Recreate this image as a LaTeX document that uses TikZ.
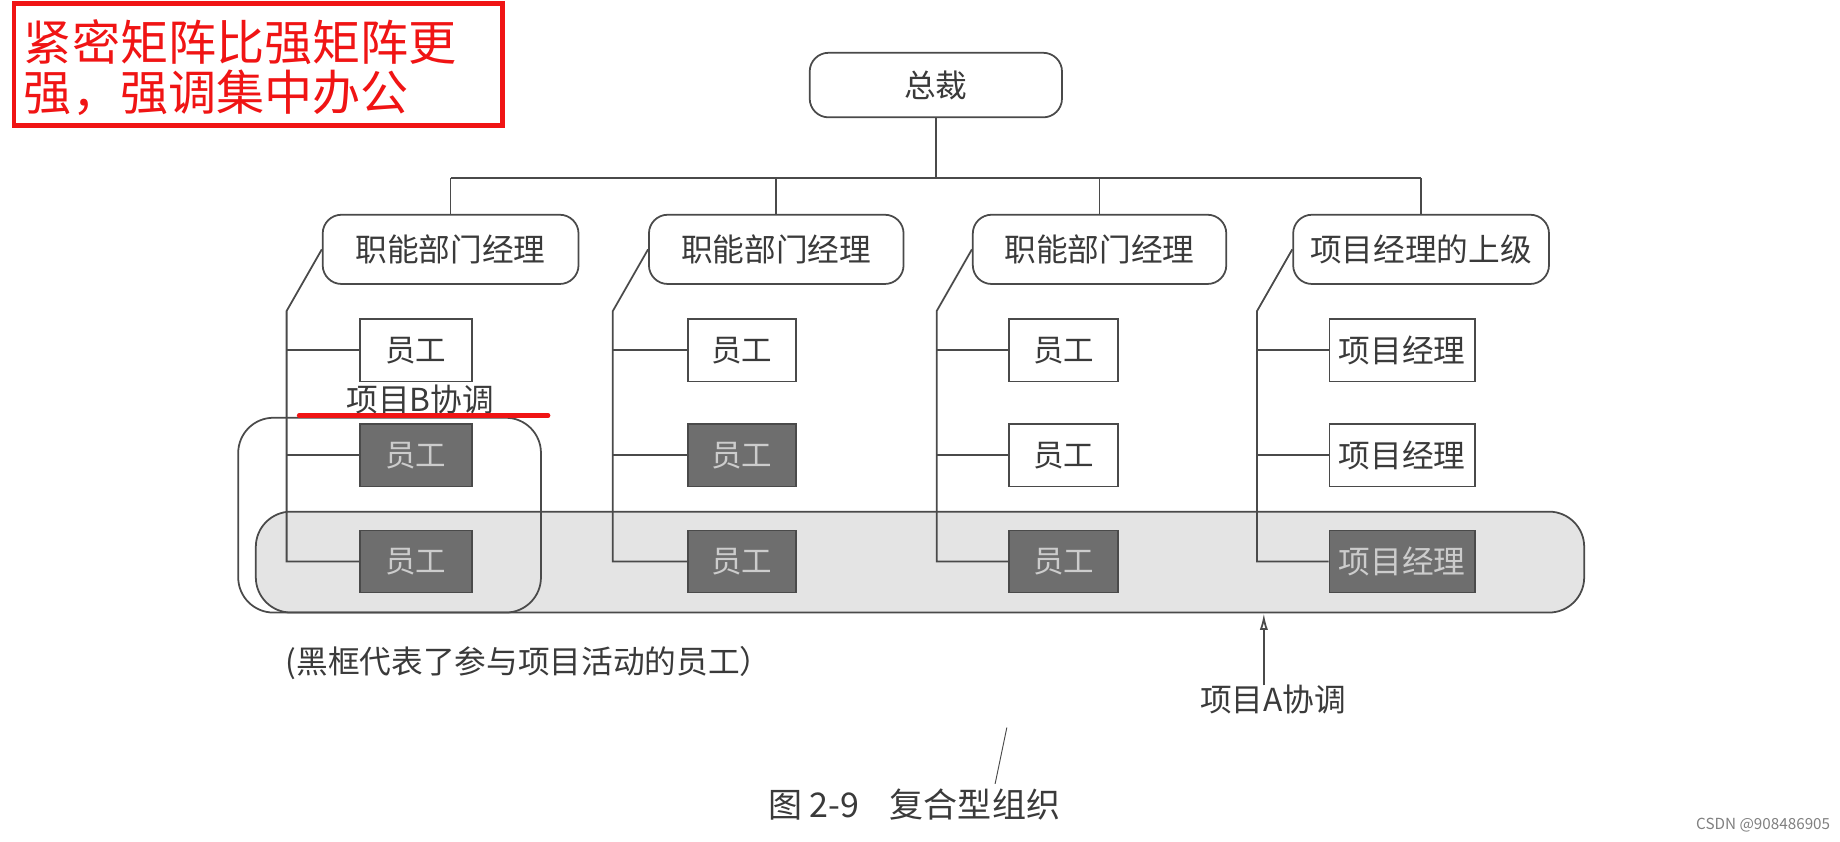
\documentclass[tikz,border=0pt]{standalone}
\usepackage{fontspec}
\setmainfont{Noto Sans CJK SC}
\usetikzlibrary{arrows.meta}
\definecolor{lncol}{HTML}{4A4A4A}
\definecolor{txtcol}{HTML}{3A3A3A}
\definecolor{darkfill}{HTML}{6E6E6E}
\definecolor{darktext}{HTML}{CCCCCC}
\definecolor{bandfill}{HTML}{E4E4E4}
\definecolor{redmark}{RGB}{240,20,20}
\begin{document}
\begin{tikzpicture}[x=0.5pt,y=-0.5pt,
  ln/.style={draw=lncol,line width=0.75pt},
  mgr/.style={draw=lncol,line width=0.75pt,rounded corners=8pt,minimum height=29.5pt,inner sep=0pt,text=txtcol,font=\fontsize{13.5}{16}\selectfont},
  emp/.style={draw=lncol,line width=0.75pt,fill=white,minimum height=26.5pt,inner sep=0pt,text=txtcol,font=\fontsize{13}{16}\selectfont},
  empd/.style={emp,fill=darkfill,text=darktext},
  lbl/.style={inner sep=0pt,text=txtcol,font=\fontsize{13.5}{16}\selectfont},
  redtxt/.style={inner sep=0pt,anchor=west,text=redmark,font=\fontsize{20.5}{22}\selectfont}
]
\useasboundingbox[fill=white] (0,0) rectangle (1568,717);

% red note
\draw[draw=redmark,line width=2pt] (12,3) rectangle (428,107);
\node[redtxt] (r1) at (20,36) {紧密矩阵比强矩阵更};
\node[redtxt] (r2) at (20,79) {强，强调集中办公};

% project A band and project B box
\node[draw=lncol,line width=0.75pt,fill=bandfill,rounded corners=15pt,minimum width=566pt,minimum height=43pt,inner sep=0pt] (bandA) at (784,479) {};
\node[draw=lncol,line width=0.75pt,rounded corners=15pt,minimum width=129pt,minimum height=83pt,inner sep=0pt] (boxB) at (332,439) {};

% top
\node[mgr,minimum width=107.5pt,minimum height=27.5pt] (top) at (797.5,72.5) {总裁};

% managers
\node[mgr,minimum width=109pt] (m1) at (384,212.5) {职能部门经理};
\node[mgr,minimum width=108.5pt] (m2) at (661.5,212.5) {职能部门经理};
\node[mgr,minimum width=108pt] (m3) at (937,212.5) {职能部门经理};
\node[mgr,minimum width=109pt] (m4) at (1211,212.5) {项目经理的上级};

% bus
\coordinate (bus) at (797.5,152);
\draw[ln] (top.south) -- (bus);
\draw[ln] (m1.north |- bus) -- (m4.north |- bus);
\foreach \m in {m1,m2,m3,m4} \draw[ln] (\m.north) -- (\m.north |- bus);

% employees
\node[emp,minimum width=47.5pt] (e11) at (354.5,298.5) {员工};
\node[empd,minimum width=47.5pt] (e12) at (354.5,388) {员工};
\node[empd,minimum width=47.5pt] (e13) at (354.5,478.5) {员工};
\node[emp,minimum width=46pt] (e21) at (632,298.5) {员工};
\node[empd,minimum width=46pt] (e22) at (632,388) {员工};
\node[empd,minimum width=46pt] (e23) at (632,478.5) {员工};
\node[emp,minimum width=46.5pt] (e31) at (906.5,298.5) {员工};
\node[emp,minimum width=46.5pt] (e32) at (906.5,388) {员工};
\node[empd,minimum width=46.5pt] (e33) at (906.5,478.5) {员工};
\node[emp,minimum width=62pt,font=\fontsize{13.5}{16}\selectfont] (e41) at (1195,298.5) {项目经理};
\node[emp,minimum width=62pt,font=\fontsize{13.5}{16}\selectfont] (e42) at (1195,388) {项目经理};
\node[empd,minimum width=62pt,font=\fontsize{13.5}{16}\selectfont] (e43) at (1195,478.5) {项目经理};

% spines
\foreach \i in {1,2,3,4} {
  \draw[ln] (m\i.west) -- ++(-30,52.5) coordinate (k\i) -- (k\i |- e\i3.west) -- (e\i3.west);
  \draw[ln] (k\i |- e\i1.west) -- (e\i1.west);
  \draw[ln] (k\i |- e\i2.west) -- (e\i2.west);
}

% labels
\node[lbl] (lblB) at (358,340) {项目B协调};
\draw[draw=redmark,line width=2pt,line cap=round] (255,354) coordinate (ulA) -- (467,354) coordinate (ulB);
\node[lbl,anchor=west] (note) at (243,565) {(黑框代表了参与项目活动的员工）};
\node[lbl] (lblA) at (1085,596) {项目A协调};
\coordinate (arrA) at (1077,584);
\draw[ln,-{Latex[open,length=7pt,width=3.5pt]}] (arrA) -- (arrA |- bandA.south);

% scan mark
\draw[draw=lncol,line width=0.4pt] (858,620) coordinate (sm1) -- (848,668) coordinate (sm2);

% caption
\node[inner sep=0pt,text=txtcol,font=\fontsize{14.5}{17}\selectfont] (cap) at (779,686) {图 2-9\hspace{13pt}复合型组织};
\node[inner sep=0pt,anchor=east,text=gray,font=\fontsize{6.5}{8}\selectfont] (wm) at (1560,703) {CSDN @908486905};
\end{tikzpicture}
\end{document}
